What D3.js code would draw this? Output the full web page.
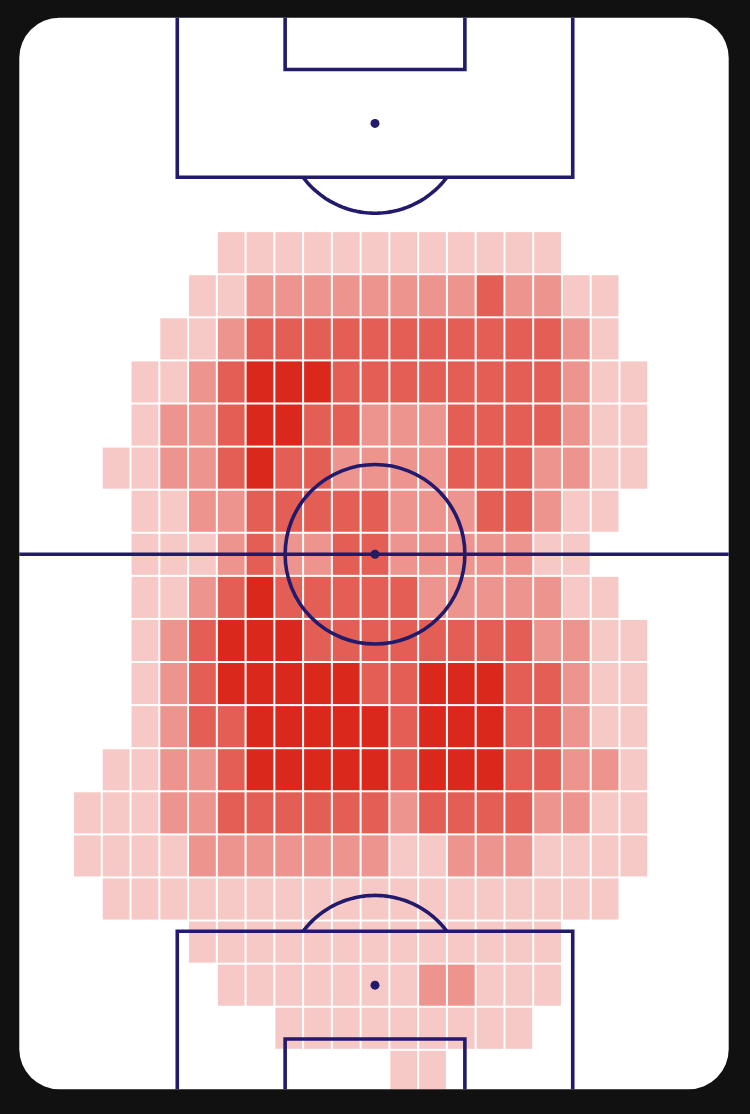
<!DOCTYPE html>
<html>
<head>
<meta charset="utf-8">
<script src="https://cdn.jsdelivr.net/npm/d3@7"></script>
<style>
  html, body { margin: 0; padding: 0; background: #111111; }
  svg { display: block; }
</style>
</head>
<body>
<div id="chart"></div>
<script>
// ---- data: heat level (0 = empty, 1..4 = quartile) per grid row (rows top -> bottom), 25 columns each
const nCols = 25;
const nRows = 25;
const heatRows = [
  [0,0,0,0,0,0,0,0,0,0,0,0,0,0,0,0,0,0,0,0,0,0,0,0,0],
  [0,0,0,0,0,0,0,0,0,0,0,0,0,0,0,0,0,0,0,0,0,0,0,0,0],
  [0,0,0,0,0,0,0,0,0,0,0,0,0,0,0,0,0,0,0,0,0,0,0,0,0],
  [0,0,0,0,0,0,0,0,0,0,0,0,0,0,0,0,0,0,0,0,0,0,0,0,0],
  [0,0,0,0,0,0,0,0,0,0,0,0,0,0,0,0,0,0,0,0,0,0,0,0,0],
  [0,0,0,0,0,0,0,1,1,1,1,1,1,1,1,1,1,1,1,0,0,0,0,0,0],
  [0,0,0,0,0,0,1,1,2,2,2,2,2,2,2,2,3,2,2,1,1,0,0,0,0],
  [0,0,0,0,0,1,1,2,3,3,3,3,3,3,3,3,3,3,3,2,1,0,0,0,0],
  [0,0,0,0,1,1,2,3,4,4,4,3,3,3,3,3,3,3,3,2,1,1,0,0,0],
  [0,0,0,0,1,2,2,3,4,4,3,3,2,2,2,3,3,3,3,2,1,1,0,0,0],
  [0,0,0,1,1,2,2,3,4,3,3,2,2,2,2,3,3,3,2,2,1,1,0,0,0],
  [0,0,0,0,1,1,2,2,3,3,3,3,3,2,2,2,3,3,2,1,1,0,0,0,0],
  [0,0,0,0,1,1,1,2,3,2,2,3,3,2,2,2,2,2,1,1,0,0,0,0,0],
  [0,0,0,0,1,1,2,3,4,3,3,3,3,3,2,2,2,2,2,1,1,0,0,0,0],
  [0,0,0,0,1,2,3,4,4,4,3,3,3,3,3,3,3,3,2,2,1,1,0,0,0],
  [0,0,0,0,1,2,3,4,4,4,4,4,3,3,4,4,4,3,3,2,1,1,0,0,0],
  [0,0,0,0,1,2,3,3,4,4,4,4,4,3,4,4,4,3,3,2,1,1,0,0,0],
  [0,0,0,1,1,2,2,3,4,4,4,4,4,3,4,4,4,3,3,2,2,1,0,0,0],
  [0,0,1,1,1,2,2,3,3,3,3,3,3,2,3,3,3,3,2,2,1,1,0,0,0],
  [0,0,1,1,1,1,2,2,2,2,2,2,2,1,1,2,2,2,1,1,1,1,0,0,0],
  [0,0,0,1,1,1,1,1,1,1,1,1,1,1,1,1,1,1,1,1,1,0,0,0,0],
  [0,0,0,0,0,0,1,1,1,1,1,1,1,1,1,1,1,1,1,0,0,0,0,0,0],
  [0,0,0,0,0,0,0,1,1,1,1,1,1,1,2,2,1,1,1,0,0,0,0,0,0],
  [0,0,0,0,0,0,0,0,0,1,1,1,1,1,1,1,1,1,0,0,0,0,0,0,0],
  [0,0,0,0,0,0,0,0,0,0,0,0,0,1,1,0,0,0,0,0,0,0,0,0,0]
];
const levelOpacity = [0, 0.25, 0.5, 0.75, 1];

// pitch dimensions (StatsBomb-style units)
const pitchWidth = 80;
const pitchLength = 120;

// ---- drawing
const W = 750, H = 1114;
const lineColor = "#221a6b";
const heatColor = "#da291c";

const svg = d3.select("#chart").append("svg")
  .attr("width", W).attr("height", H);

svg.append("rect").attr("width", W).attr("height", H).attr("fill", "#111111");

const x = d3.scaleLinear().domain([0, pitchWidth]).range([15.5, 734.5]);
const y = d3.scaleLinear().domain([0, pitchLength]).range([15.7, 1092.9]);

const colBand = d3.scaleBand().domain(d3.range(nCols)).range(x.range()).padding(0);
const rowBand = d3.scaleBand().domain(d3.range(nRows)).range(y.range()).padding(0);
const opacity = d3.scaleOrdinal().domain(d3.range(levelOpacity.length)).range(levelOpacity);

const bg = { x: 19.3, y: 17.7, w: 709.4, h: 1071.6, r: 40 };

const defs = svg.append("defs");
defs.append("clipPath").attr("id", "pitchClip")
  .append("rect")
  .attr("x", bg.x).attr("y", bg.y).attr("width", bg.w).attr("height", bg.h)
  .attr("rx", bg.r).attr("ry", bg.r);

svg.append("rect")
  .attr("x", bg.x).attr("y", bg.y).attr("width", bg.w).attr("height", bg.h)
  .attr("rx", bg.r).attr("ry", bg.r)
  .attr("fill", "#ffffff");

const g = svg.append("g").attr("clip-path", "url(#pitchClip)");

// heatmap cells
const cells = [];
heatRows.forEach((row, r) => row.forEach((v, c) => { if (v > 0) cells.push({ r, c, v }); }));

const gap = 1;
g.append("g").selectAll("rect").data(cells).join("rect")
  .attr("x", d => colBand(d.c) + gap)
  .attr("y", d => rowBand(d.r) + gap)
  .attr("width", colBand.bandwidth() - 2 * gap)
  .attr("height", rowBand.bandwidth() - 2 * gap)
  .attr("fill", heatColor)
  .attr("fill-opacity", d => opacity(d.v));

// pitch lines
const lines = g.append("g")
  .attr("fill", "none")
  .attr("stroke", lineColor)
  .attr("stroke-width", 3.6)
  .attr("stroke-linejoin", "miter");

const boxPath = (x0, x1, yGoal, yEdge) => {
  const p = d3.path();
  p.moveTo(x(x0), y(yGoal));
  p.lineTo(x(x0), y(yEdge));
  p.lineTo(x(x1), y(yEdge));
  p.lineTo(x(x1), y(yGoal));
  return p.toString();
};

// penalty areas (18 deep, 44 wide) and goal areas (6 deep, 20 wide)
lines.append("path").attr("d", boxPath(18, 62, -2, 18));
lines.append("path").attr("d", boxPath(30, 50, -2, 6));
lines.append("path").attr("d", boxPath(18, 62, pitchLength + 2, pitchLength - 18));
lines.append("path").attr("d", boxPath(30, 50, pitchLength + 2, pitchLength - 6));

// halfway line
lines.append("line")
  .attr("x1", x(-2)).attr("x2", x(pitchWidth + 2))
  .attr("y1", y(pitchLength / 2)).attr("y2", y(pitchLength / 2));

// centre circle
const rUnits = 10;
lines.append("ellipse")
  .attr("cx", x(pitchWidth / 2)).attr("cy", y(pitchLength / 2))
  .attr("rx", x(rUnits) - x(0)).attr("ry", y(rUnits) - y(0));

// penalty arcs (D)
const halfAngle = Math.acos(6 / 10);
function arcPath(spotY, dir) {
  const pts = d3.range(0, 61).map(i => {
    const a = -halfAngle + (2 * halfAngle) * i / 60;
    return [x(pitchWidth / 2 + rUnits * Math.sin(a)), y(spotY + dir * rUnits * Math.cos(a))];
  });
  return d3.line()(pts);
}
lines.append("path").attr("d", arcPath(12, 1));
lines.append("path").attr("d", arcPath(pitchLength - 12, -1));

// spots
const spots = [[pitchWidth / 2, 12], [pitchWidth / 2, pitchLength / 2], [pitchWidth / 2, pitchLength - 12]];
g.append("g").selectAll("circle").data(spots).join("circle")
  .attr("cx", d => x(d[0])).attr("cy", d => y(d[1]))
  .attr("r", 4.5).attr("fill", lineColor);
</script>
</body>
</html>
